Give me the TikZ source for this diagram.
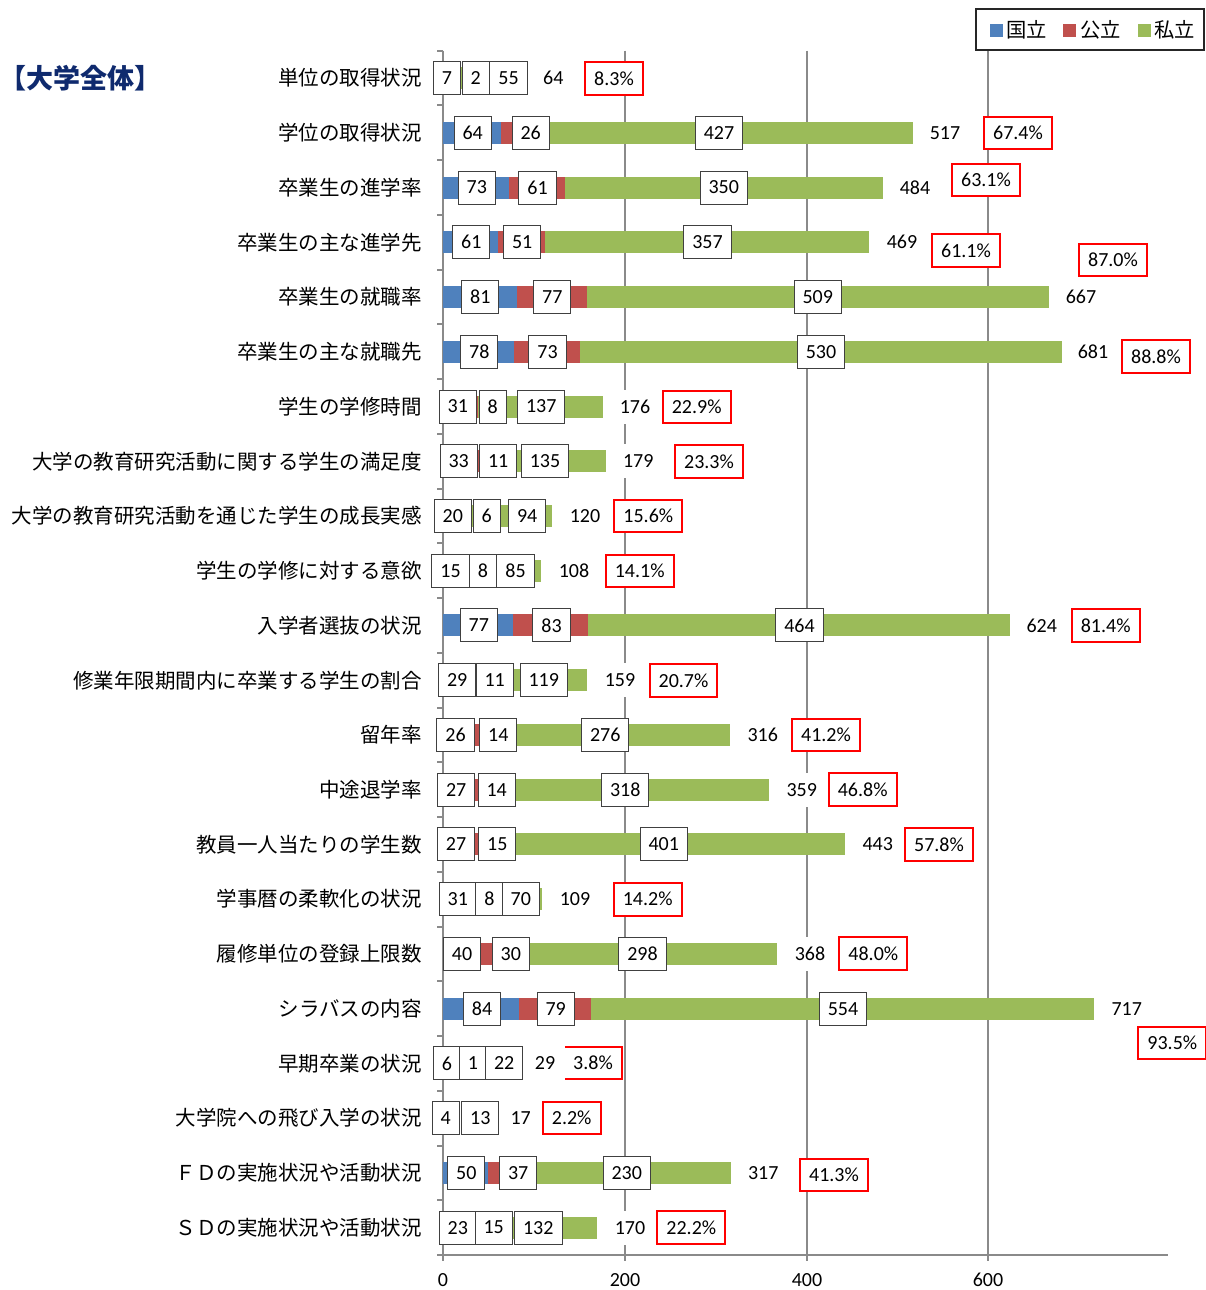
\documentclass[tikz,border=0pt]{standalone}
\usepackage{fontspec}
\setmainfont{Carlito}
\newfontfamily\jp{Noto Sans CJK JP}
\definecolor{cblue}{HTML}{4F81BD}
\definecolor{cred}{HTML}{C0504D}
\definecolor{cgreen}{HTML}{9BBB59}
\definecolor{gridc}{HTML}{8A8A8A}
\definecolor{boxc}{HTML}{404040}
\definecolor{navy}{HTML}{0F2A6E}
\begin{document}
\begin{tikzpicture}[x=1pt,y=-1pt,
  vbox/.style={draw=boxc, line width=1pt, fill=white, inner xsep=8.5pt, inner ysep=0pt, minimum height=33pt, font=\fontsize{20}{24}\selectfont},
  pbox/.style={draw=red, line width=2pt, fill=white, inner xsep=9pt, inner ysep=0pt, minimum height=32.7pt, font=\fontsize{20}{24}\selectfont},
  tot/.style={fill=white, inner xsep=10pt, inner ysep=0pt, minimum height=34pt, font=\fontsize{20}{24}\selectfont},
  cat/.style={anchor=east, inner sep=0pt, font=\jp\fontsize{20.5}{24}\selectfont},
  leg/.style={anchor=west, inner sep=0pt, font=\jp\fontsize{20.3}{24}\selectfont},
  ticklab/.style={inner sep=0pt, font=\fontsize{20}{24}\selectfont},
  axisline/.style={draw=gridc, line width=2pt},
  gridline/.style={draw=gridc, line width=2pt}
]
\useasboundingbox (0,0) rectangle (1205,1290);

% title
\node[anchor=west, inner sep=0pt, text=navy, font=\jp\bfseries\fontsize{27}{31}\selectfont] (title) at (-1,78.5) {【大学全体】};

% gridlines
\foreach \gx in {625,807,988} \draw[gridline] (\gx,50.7) -- (\gx,1255);
% axes
\draw[axisline] (443,50.7) -- (443,1255);
\draw[axisline] (437,1255) -- (1168,1255);
\foreach \k in {0,...,22} \draw[axisline] (437,{50.7+54.74*\k}) -- (443,{50.7+54.74*\k});
\foreach \gx in {443,625,807,988} \draw[axisline] (\gx,1255) -- (\gx,1261);
\node[ticklab] (x0) at (443,1280) {0};
\node[ticklab] (x200) at (625,1280) {200};
\node[ticklab] (x400) at (807,1280) {400};
\node[ticklab] (x600) at (988,1280) {600};

% legend
\draw[draw=black!85, line width=1.3pt] (976,9) rectangle (1204,50);
\fill[cblue] (990,24) rectangle (1003,37);
\node[leg] (lg1) at (1006,30) {国立};
\fill[cred] (1063,24) rectangle (1076,37);
\node[leg] (lg2) at (1080,30) {公立};
\fill[cgreen] (1138,24) rectangle (1151,37);
\node[leg] (lg3) at (1154,30) {私立};

% rows
\foreach \i/\yy/\lab/\vN/\vP/\vS/\vT/\nx/\px/\sx/\tx/\pc/\pcx/\pcy in {
1/78.07/単位の取得状況/7/2/55/64/447/475.7/508.5/553.3/8.3/614/78.7,
2/132.81/学位の取得状況/64/26/427/517/472.7/530.7/719/945/67.4/1018/133,
3/187.55/卒業生の進学率/73/61/350/484/476.8/537.5/723.8/915/63.1/986/180,
4/242.29/卒業生の主な進学先/61/51/357/469/471.3/522.2/707.5/902/61.1/966/250.5,
5/297.03/卒業生の就職率/81/77/509/667/480.3/552.3/817.7/1081/87.0/1113/260,
6/351.77/卒業生の主な就職先/78/73/530/681/479.3/547.5/821/1093/88.8/1156/356.7,
7/406.51/学生の学修時間/31/8/137/176/457.8/492.8/541.2/635/22.9/696.7/407,
8/461.25/大学の教育研究活動に関する学生の満足度/33/11/135/179/458.7/498.2/545/638.3/23.3/709/461.7,
9/515.99/大学の教育研究活動を通じた学生の成長実感/20/6/94/120/452.8/486.7/527.2/585/15.6/648.3/516,
10/570.73/学生の学修に対する意欲/15/8/85/108/450.5/483/515.5/574/14.1/639.7/571,
11/625.47/入学者選抜の状況/77/83/464/624/478.8/551.5/799.5/1041.7/81.4/1105.7/625.3,
12/680.21/修業年限期間内に卒業する学生の割合/29/11/119/159/457.2/494.7/543.8/620/20.7/683.5/680.3,
13/734.95/留年率/26/14/276/316/455.5/498.3/605.2/762.7/41.2/826/735,
14/789.69/中途退学率/27/14/318/359/456.2/496.7/625.2/801.7/46.8/862.7/789.8,
15/844.43/教員一人当たりの学生数/27/15/401/443/456/497.3/663.7/877.7/57.8/939/844.5,
16/899.17/学事暦の柔軟化の状況/31/8/70/109/457.8/489.5/520.8/575/14.2/647.7/899.2,
17/953.91/履修単位の登録上限数/40/30/298/368/462/510.8/642.5/810/48.0/873.3/953.8,
18/1008.65/シラバスの内容/84/79/554/717/482/555.7/843/1126.7/93.5/1172.3/1043,
19/1063.39/早期卒業の状況/6/1/22/29/447/473/504.2/545/3.8/593/1063,
20/1118.13/大学院への飛び入学の状況/4/0/13/17/445.8/0/480.3/520.7/2.2/571.7/1118,
21/1172.87/ＦＤの実施状況や活動状況/50/37/230/317/466.3/518.2/626.8/763.3/41.3/834/1175,
22/1227.61/ＳＤの実施状況や活動状況/23/15/132/170/457.8/493.7/538.3/630/22.2/691.3/1227.5}
{
  \pgfmathsetmacro\xa{443+0.9083*\vN}
  \pgfmathsetmacro\xb{443+0.9083*(\vN+\vP)}
  \pgfmathsetmacro\xc{443+0.9083*\vT}
  \fill[cblue] (443,\yy-11) rectangle (\xa,\yy+11);
  \fill[cred] (\xa,\yy-11) rectangle (\xb,\yy+11);
  \fill[cgreen] (\xb,\yy-11) rectangle (\xc,\yy+11);
  \node[cat] (c\i) at (422,\yy) {\lab};
  \node[vbox] (n\i) at (\nx,\yy) {\vN};
  \ifnum\vP>0 \node[vbox] (p\i) at (\px,\yy) {\vP};\fi
  \node[vbox] (s\i) at (\sx,\yy) {\vS};
  \node[pbox] (q\i) at (\pcx,\pcy) {\pc\%};
  \node[tot] (t\i) at (\tx,\yy) {\vT};
}
\end{tikzpicture}
\end{document}
